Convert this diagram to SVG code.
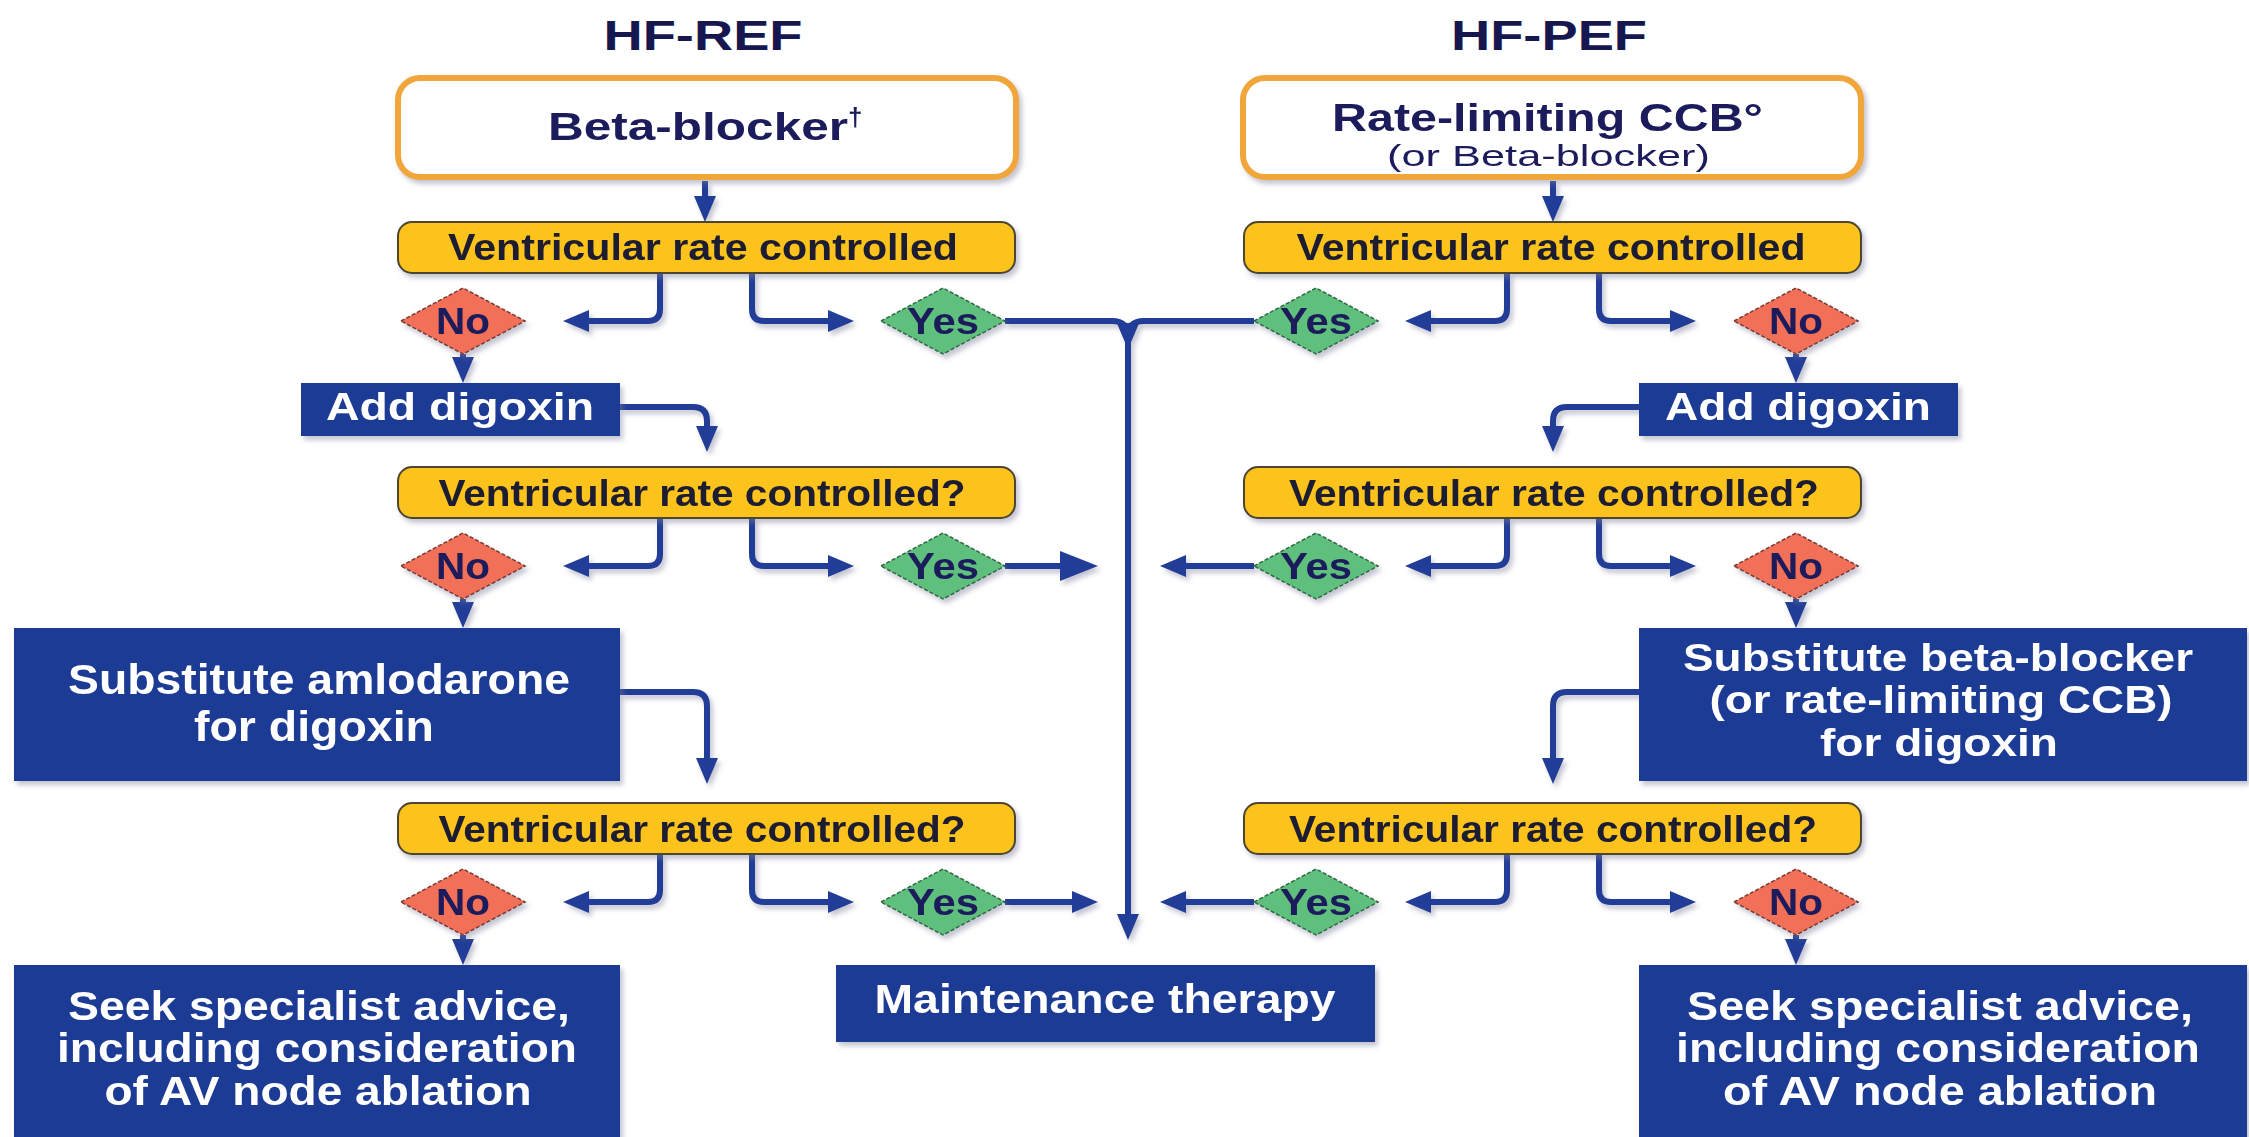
<svg xmlns="http://www.w3.org/2000/svg" width="2249" height="1137" viewBox="0 0 2249 1137">
<defs>
<style>
text{font-family:"Liberation Sans",Arial,sans-serif;font-weight:bold}
.title{font-size:42px;fill:#17174f;text-anchor:middle}
.start{fill:#fff;stroke:#f1a63b;stroke-width:6}
.st{fill:#1a1a5c}
.reg{font-weight:normal}
.q{fill:#fbc31c;stroke:#4b4430;stroke-width:2}
.qt{font-size:37px;fill:#1c1a30;text-anchor:middle}
.no{fill:#f27059;stroke:#7a3a30;stroke-width:1.5;stroke-dasharray:4 2}
.yes{fill:#5fbf7b;stroke:#2f6a45;stroke-width:1.5;stroke-dasharray:4 2}
.dt{font-size:36px;fill:#1a1a5c;text-anchor:middle}
.act{fill:#1f3b95}
.at{fill:#fff;text-anchor:middle}
.c{fill:none;stroke:#213e97;stroke-width:6}
</style>
<filter id="sh" x="-10%" y="-10%" width="130%" height="140%">
<feDropShadow dx="3" dy="4" stdDeviation="2.5" flood-color="#7a7f99" flood-opacity="0.45"/>
</filter>
<marker id="ah" markerUnits="userSpaceOnUse" markerWidth="26" markerHeight="22" refX="17" refY="11" orient="auto">
<path d="M0,0 L26,11 L0,22 Z" fill="#213e97"/>
</marker>
<marker id="ahb" markerUnits="userSpaceOnUse" markerWidth="38" markerHeight="30" refX="28" refY="15" orient="auto">
<path d="M0,0 L38,15 L0,30 Z" fill="#213e97"/>
</marker>
</defs>
<rect width="2249" height="1137" fill="#fff"/>

<g id="titles">
<text class="title" x="703" y="50" textLength="199" lengthAdjust="spacingAndGlyphs">HF-REF</text>
<text class="title" x="1549" y="50" textLength="196" lengthAdjust="spacingAndGlyphs">HF-PEF</text>
</g>

<g id="connectors" filter="url(#sh)">
<path class="c" d="M705,181 V213" marker-end="url(#ah)"/>
<path class="c" d="M1553,181 V213" marker-end="url(#ah)"/>
<path class="c" d="M660,273 V309 Q660,321 648,321 H572" marker-end="url(#ah)"/>
<path class="c" d="M752,273 V309 Q752,321 764,321 H845" marker-end="url(#ah)"/>
<path class="c" d="M1507,273 V309 Q1507,321 1495,321 H1414" marker-end="url(#ah)"/>
<path class="c" d="M1599,273 V309 Q1599,321 1611,321 H1687" marker-end="url(#ah)"/>
<path class="c" d="M660,518 V554 Q660,566 648,566 H572" marker-end="url(#ah)"/>
<path class="c" d="M752,518 V554 Q752,566 764,566 H845" marker-end="url(#ah)"/>
<path class="c" d="M1507,518 V554 Q1507,566 1495,566 H1414" marker-end="url(#ah)"/>
<path class="c" d="M1599,518 V554 Q1599,566 1611,566 H1687" marker-end="url(#ah)"/>
<path class="c" d="M660,854 V890 Q660,902 648,902 H572" marker-end="url(#ah)"/>
<path class="c" d="M752,854 V890 Q752,902 764,902 H845" marker-end="url(#ah)"/>
<path class="c" d="M1507,854 V890 Q1507,902 1495,902 H1414" marker-end="url(#ah)"/>
<path class="c" d="M1599,854 V890 Q1599,902 1611,902 H1687" marker-end="url(#ah)"/>
<path class="c" d="M463,354 V374" marker-end="url(#ah)"/>
<path class="c" d="M463,599 V619" marker-end="url(#ah)"/>
<path class="c" d="M463,935 V956" marker-end="url(#ah)"/>
<path class="c" d="M1796,354 V374" marker-end="url(#ah)"/>
<path class="c" d="M1796,599 V619" marker-end="url(#ah)"/>
<path class="c" d="M1796,935 V956" marker-end="url(#ah)"/>
<path class="c" d="M620,407 H693 Q707,407 707,421 V443" marker-end="url(#ah)"/>
<path class="c" d="M1639,407 H1567 Q1553,407 1553,421 V443" marker-end="url(#ah)"/>
<path class="c" d="M620,692 H693 Q707,692 707,706 V775" marker-end="url(#ah)"/>
<path class="c" d="M1639,692 H1567 Q1553,692 1553,706 V775" marker-end="url(#ah)"/>
<path class="c" d="M1005,321 H1112 Q1128,321 1128,337 V340" marker-end="url(#ah)"/>
<path class="c" d="M1254,321 H1144 Q1128,321 1128,337 V340" marker-end="url(#ah)"/>
<path class="c" d="M1128,340 V931" marker-end="url(#ah)"/>
<path class="c" d="M1005,566 H1088" marker-end="url(#ahb)"/>
<path class="c" d="M1254,566 H1169" marker-end="url(#ah)"/>
<path class="c" d="M1005,902 H1089" marker-end="url(#ah)"/>
<path class="c" d="M1254,902 H1169" marker-end="url(#ah)"/>
</g>

<g id="start-ref" filter="url(#sh)">
<rect class="start" x="398" y="78" width="618" height="99" rx="22"/>
<text class="st" x="548" y="140" font-size="39"><tspan textLength="300" lengthAdjust="spacingAndGlyphs">Beta-blocker</tspan><tspan font-size="26" dy="-14">†</tspan></text>
</g>
<g id="start-pef" filter="url(#sh)">
<rect class="start" x="1243" y="78" width="618" height="99" rx="22"/>
<text class="st" x="1332" y="131" font-size="39" textLength="431" lengthAdjust="spacingAndGlyphs">Rate-limiting CCB°</text>
<text class="st reg" x="1387" y="166" font-size="30" textLength="323" lengthAdjust="spacingAndGlyphs">(or Beta-blocker)</text>
</g>

<g id="q1-ref" filter="url(#sh)">
<rect class="q" x="398" y="222" width="617" height="51" rx="14"/>
<text class="qt" x="703" y="260" textLength="510" lengthAdjust="spacingAndGlyphs">Ventricular rate controlled</text>
</g>
<g id="q2-ref" filter="url(#sh)">
<rect class="q" x="398" y="467" width="617" height="51" rx="14"/>
<text class="qt" x="702" y="506" textLength="527" lengthAdjust="spacingAndGlyphs">Ventricular rate controlled?</text>
</g>
<g id="q3-ref" filter="url(#sh)">
<rect class="q" x="398" y="803" width="617" height="51" rx="14"/>
<text class="qt" x="702" y="842" textLength="527" lengthAdjust="spacingAndGlyphs">Ventricular rate controlled?</text>
</g>
<g id="q1-pef" filter="url(#sh)">
<rect class="q" x="1244" y="222" width="617" height="51" rx="14"/>
<text class="qt" x="1551" y="260" textLength="509" lengthAdjust="spacingAndGlyphs">Ventricular rate controlled</text>
</g>
<g id="q2-pef" filter="url(#sh)">
<rect class="q" x="1244" y="467" width="617" height="51" rx="14"/>
<text class="qt" x="1554" y="506" textLength="530" lengthAdjust="spacingAndGlyphs">Ventricular rate controlled?</text>
</g>
<g id="q3-pef" filter="url(#sh)">
<rect class="q" x="1244" y="803" width="617" height="51" rx="14"/>
<text class="qt" x="1553" y="842" textLength="528" lengthAdjust="spacingAndGlyphs">Ventricular rate controlled?</text>
</g>

<g id="no1-ref" filter="url(#sh)"><path class="no" d="M401,321 L463,288 L525,321 L463,354 Z"/><text class="dt" x="463" y="334" textLength="54" lengthAdjust="spacingAndGlyphs">No</text></g>
<g id="yes1-ref" filter="url(#sh)"><path class="yes" d="M881,321 L943,288 L1005,321 L943,354 Z"/><text class="dt" x="943" y="334" textLength="72" lengthAdjust="spacingAndGlyphs">Yes</text></g>
<g id="no2-ref" filter="url(#sh)"><path class="no" d="M401,566 L463,533 L525,566 L463,599 Z"/><text class="dt" x="463" y="579" textLength="54" lengthAdjust="spacingAndGlyphs">No</text></g>
<g id="yes2-ref" filter="url(#sh)"><path class="yes" d="M881,566 L943,533 L1005,566 L943,599 Z"/><text class="dt" x="943" y="579" textLength="72" lengthAdjust="spacingAndGlyphs">Yes</text></g>
<g id="no3-ref" filter="url(#sh)"><path class="no" d="M401,902 L463,869 L525,902 L463,935 Z"/><text class="dt" x="463" y="915" textLength="54" lengthAdjust="spacingAndGlyphs">No</text></g>
<g id="yes3-ref" filter="url(#sh)"><path class="yes" d="M881,902 L943,869 L1005,902 L943,935 Z"/><text class="dt" x="943" y="915" textLength="72" lengthAdjust="spacingAndGlyphs">Yes</text></g>

<g id="yes1-pef" filter="url(#sh)"><path class="yes" d="M1254,321 L1316,288 L1378,321 L1316,354 Z"/><text class="dt" x="1316" y="334" textLength="72" lengthAdjust="spacingAndGlyphs">Yes</text></g>
<g id="no1-pef" filter="url(#sh)"><path class="no" d="M1734,321 L1796,288 L1858,321 L1796,354 Z"/><text class="dt" x="1796" y="334" textLength="54" lengthAdjust="spacingAndGlyphs">No</text></g>
<g id="yes2-pef" filter="url(#sh)"><path class="yes" d="M1254,566 L1316,533 L1378,566 L1316,599 Z"/><text class="dt" x="1316" y="579" textLength="72" lengthAdjust="spacingAndGlyphs">Yes</text></g>
<g id="no2-pef" filter="url(#sh)"><path class="no" d="M1734,566 L1796,533 L1858,566 L1796,599 Z"/><text class="dt" x="1796" y="579" textLength="54" lengthAdjust="spacingAndGlyphs">No</text></g>
<g id="yes3-pef" filter="url(#sh)"><path class="yes" d="M1254,902 L1316,869 L1378,902 L1316,935 Z"/><text class="dt" x="1316" y="915" textLength="72" lengthAdjust="spacingAndGlyphs">Yes</text></g>
<g id="no3-pef" filter="url(#sh)"><path class="no" d="M1734,902 L1796,869 L1858,902 L1796,935 Z"/><text class="dt" x="1796" y="915" textLength="54" lengthAdjust="spacingAndGlyphs">No</text></g>

<g id="digoxin-ref" filter="url(#sh)">
<rect class="act" x="301" y="383" width="319" height="53"/>
<text class="at" x="460" y="420" font-size="38" textLength="268" lengthAdjust="spacingAndGlyphs">Add digoxin</text>
</g>
<g id="digoxin-pef" filter="url(#sh)">
<rect class="act" x="1639" y="383" width="319" height="53"/>
<text class="at" x="1798" y="420" font-size="38" textLength="266" lengthAdjust="spacingAndGlyphs">Add digoxin</text>
</g>

<g id="substitute-ref" filter="url(#sh)">
<rect class="act" x="14" y="628" width="606" height="153"/>
<text class="at" x="319" y="694" font-size="42" textLength="502" lengthAdjust="spacingAndGlyphs">Substitute amlodarone</text>
<text class="at" x="314" y="741" font-size="42" textLength="240" lengthAdjust="spacingAndGlyphs">for digoxin</text>
</g>
<g id="substitute-pef" filter="url(#sh)">
<rect class="act" x="1639" y="628" width="608" height="153"/>
<text class="at" x="1938" y="671" font-size="39" textLength="510" lengthAdjust="spacingAndGlyphs">Substitute beta-blocker</text>
<text class="at" x="1941" y="713" font-size="39" textLength="463" lengthAdjust="spacingAndGlyphs">(or rate-limiting CCB)</text>
<text class="at" x="1939" y="756" font-size="39" textLength="238" lengthAdjust="spacingAndGlyphs">for digoxin</text>
</g>

<g id="specialist-ref" filter="url(#sh)">
<rect class="act" x="14" y="965" width="606" height="180"/>
<text class="at" x="319" y="1020" font-size="41" textLength="502" lengthAdjust="spacingAndGlyphs">Seek specialist advice,</text>
<text class="at" x="317" y="1062" font-size="41" textLength="520" lengthAdjust="spacingAndGlyphs">including consideration</text>
<text class="at" x="318" y="1105" font-size="41" textLength="427" lengthAdjust="spacingAndGlyphs">of AV node ablation</text>
</g>
<g id="specialist-pef" filter="url(#sh)">
<rect class="act" x="1639" y="965" width="608" height="180"/>
<text class="at" x="1940" y="1020" font-size="41" textLength="506" lengthAdjust="spacingAndGlyphs">Seek specialist advice,</text>
<text class="at" x="1938" y="1062" font-size="41" textLength="524" lengthAdjust="spacingAndGlyphs">including consideration</text>
<text class="at" x="1940" y="1105" font-size="41" textLength="434" lengthAdjust="spacingAndGlyphs">of AV node ablation</text>
</g>

<g id="maintenance" filter="url(#sh)">
<rect class="act" x="836" y="965" width="539" height="77"/>
<text class="at" x="1105" y="1013" font-size="40" textLength="461" lengthAdjust="spacingAndGlyphs">Maintenance therapy</text>
</g>
</svg>
